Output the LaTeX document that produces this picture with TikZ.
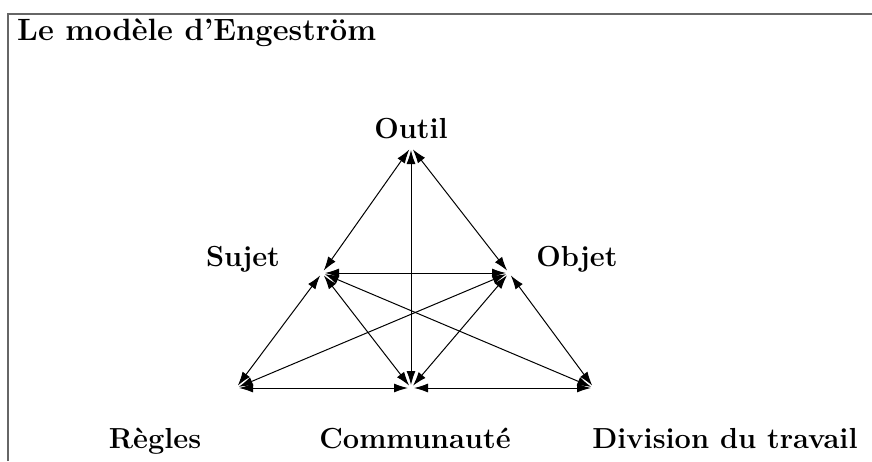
\documentclass[tikz,border=0pt]{standalone}
\usetikzlibrary{arrows.meta}

\begin{document}
\begin{tikzpicture}[
  x=1pt, y=-1pt,
  frame/.style={draw=black!60, line width=2pt},
  corner/.style={coordinate},
  lbl/.style={font=\fontsize{29}{32}\selectfont\bfseries, anchor=base, inner sep=0pt},
  arr/.style={{Latex[length=14pt,width=9pt]}-{Latex[length=14pt,width=9pt]},
    line width=1pt, shorten <=3pt, shorten >=3pt}
]
\useasboundingbox (0,0) rectangle (872,461);
\draw[frame] (8,461) -- (8,13.5) -- (872,13.5);
\node[anchor=base west, inner sep=0pt, font=\fontsize{30.8}{34}\selectfont\bfseries] (title) at (17,40) {Le modèle d'Engeström};

% sommets du triangle
\node[corner] (outil) at (411,147) {};
\node[corner] (sujet) at (322,273) {};
\node[corner] (objet) at (509,273) {};
\node[corner] (regles) at (236,388) {};
\node[corner] (comm) at (411,388) {};
\node[corner] (div) at (594,388) {};

% etiquettes
\node[lbl] (outilL) at (411,138) {Outil};
\node[lbl] (sujetL) at (243,266) {Sujet};
\node[lbl] (objetL) at (577,266) {Objet};
\node[lbl] (reglesL) at (155,448) {Règles};
\node[lbl] (commL) at (415,448) {Communauté};
\node[lbl] (divL) at (725,448) {Division du travail};

\foreach \a/\b in {outil/sujet, outil/objet, outil/comm, sujet/objet,
    sujet/regles, sujet/comm, sujet/div, objet/regles, objet/comm,
    objet/div, regles/comm, comm/div}
  \draw[arr] (\a) -- (\b);
\end{tikzpicture}
\end{document}
